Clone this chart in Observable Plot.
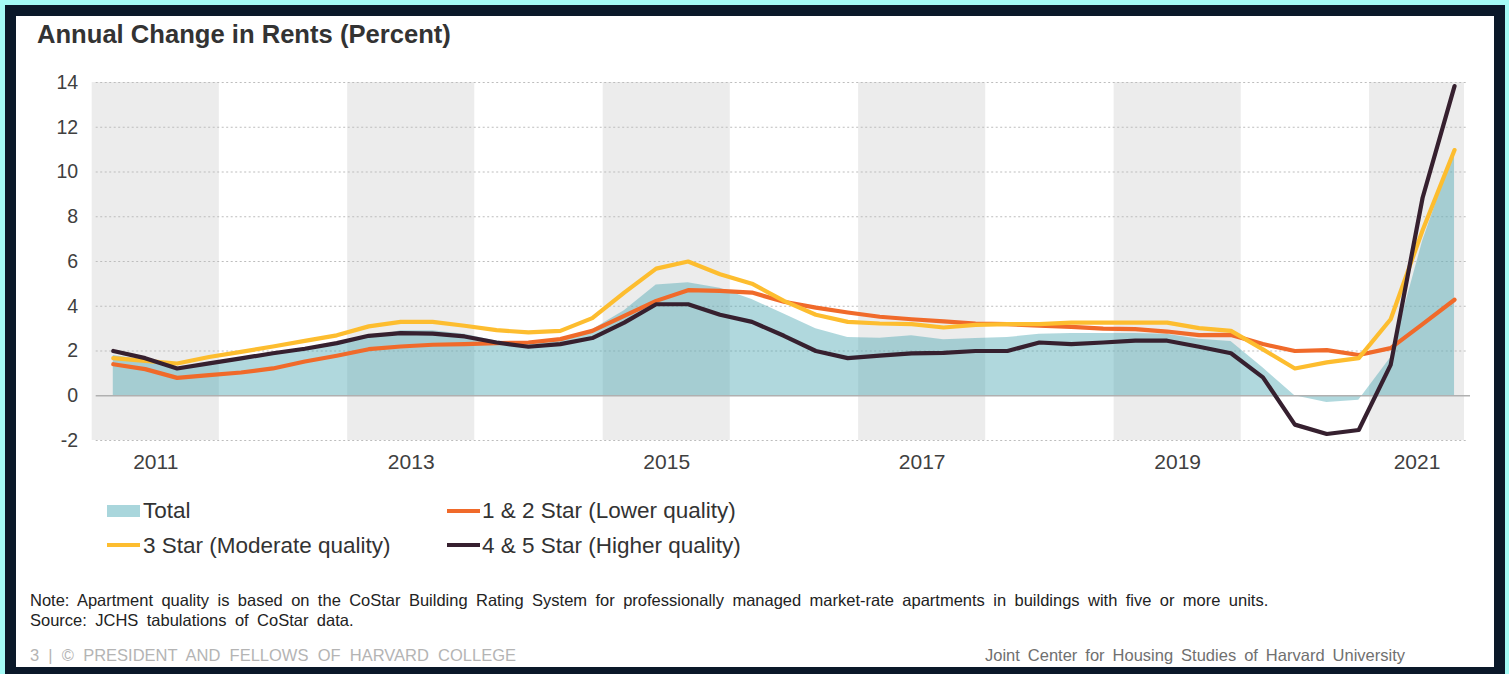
<!DOCTYPE html>
<html><head><meta charset="utf-8">
<script src="https://cdn.jsdelivr.net/npm/d3@7"></script>
<script src="https://cdn.jsdelivr.net/npm/@observablehq/plot@0.6"></script>
<style>
html,body{margin:0;padding:0;}
body{width:1509px;height:674px;background:#a4fbf6;overflow:hidden;position:relative;font-family:"Liberation Sans",Arial,sans-serif;}
#frame{position:absolute;left:5px;top:5px;width:1478px;height:651px;border:11px solid #0a1829;background:#fff;}
.abs{position:absolute;white-space:nowrap;line-height:1;}
.leg{font-size:22.5px;color:#333;}
.sw{position:absolute;}
.ft{font-size:16.5px;}
</style></head><body>
<div id="frame">
  <div class="abs" style="left:21px;top:5.5px;font-size:25.6px;font-weight:bold;color:#333;">Annual Change in Rents (Percent)</div>
  <div id="chart" class="abs" style="left:0;top:44px"></div>
  <div class="sw" style="left:91px;top:489px;width:33px;height:12px;background:#a9d6dc;"></div>
  <div class="abs leg" style="left:127px;top:484px;">Total</div>
  <div class="sw" style="left:431px;top:493px;width:33px;height:4px;background:#f06a2a;"></div>
  <div class="abs leg" style="left:466px;top:484px;">1 &amp; 2 Star (Lower quality)</div>
  <div class="sw" style="left:91px;top:527px;width:33px;height:4px;background:#fdbd2f;"></div>
  <div class="abs leg" style="left:127px;top:519px;">3 Star (Moderate quality)</div>
  <div class="sw" style="left:431px;top:527px;width:33px;height:4px;background:#36202f;"></div>
  <div class="abs leg" style="left:466px;top:519px;">4 &amp; 5 Star (Higher quality)</div>
  <div class="abs ft" style="left:14px;top:575.5px;color:#222;word-spacing:3.8px;">Note: Apartment quality is based on the CoStar Building Rating System for professionally managed market-rate apartments in buildings with five or more units.</div>
  <div class="abs ft" style="left:14px;top:595.5px;color:#222;word-spacing:3.8px;">Source: JCHS tabulations of CoStar data.</div>
  <div class="abs ft" style="left:14px;top:631px;color:#b4b4b4;word-spacing:4.6px;">3 | © PRESIDENT AND FELLOWS OF HARVARD COLLEGE</div>
  <div class="abs ft" style="left:969px;top:631px;color:#707070;word-spacing:3.4px;">Joint Center for Housing Studies of Harvard University</div>
</div>
<script>
// Quarterly periods 2011 Q1 – 2021 Q3
const periods = [];
for (let y = 2011; y <= 2021; y++) for (let q = 1; q <= 4; q++) if (!(y === 2021 && q > 3)) periods.push({year: y, q});

const total = [1.8, 1.6, 1.2, 1.5, 1.7, 1.9, 2.1, 2.35, 2.6, 2.9, 2.9, 2.75, 2.45, 2.35, 2.45, 2.95, 3.8, 4.95, 5.05, 4.8, 4.3, 3.65, 3.0, 2.6, 2.57, 2.68, 2.5, 2.56, 2.6, 2.75, 2.78, 2.78, 2.78, 2.75, 2.53, 2.42, 1.25, 0.0, -0.3, -0.2, 1.7, 6.9, 11.0];
const lowQ = [1.41, 1.19, 0.8, 0.92, 1.04, 1.22, 1.53, 1.79, 2.08, 2.2, 2.28, 2.31, 2.35, 2.38, 2.53, 2.9, 3.57, 4.24, 4.72, 4.69, 4.61, 4.2, 3.94, 3.72, 3.53, 3.42, 3.32, 3.23, 3.2, 3.13, 3.08, 3.0, 2.98, 2.87, 2.71, 2.72, 2.31, 2.0, 2.04, 1.82, 2.13, 3.2, 4.29];
const midQ = [1.68, 1.56, 1.44, 1.73, 1.96, 2.2, 2.45, 2.7, 3.1, 3.3, 3.3, 3.13, 2.93, 2.83, 2.9, 3.47, 4.61, 5.68, 6.0, 5.43, 5.01, 4.24, 3.62, 3.3, 3.23, 3.2, 3.05, 3.17, 3.2, 3.2, 3.27, 3.27, 3.27, 3.27, 3.02, 2.9, 2.07, 1.22, 1.49, 1.68, 3.42, 7.4, 10.98];
const highQ = [2.0, 1.68, 1.22, 1.45, 1.67, 1.9, 2.1, 2.35, 2.68, 2.8, 2.78, 2.65, 2.38, 2.19, 2.31, 2.58, 3.27, 4.09, 4.09, 3.62, 3.3, 2.68, 2.0, 1.68, 1.79, 1.89, 1.92, 2.0, 2.0, 2.38, 2.31, 2.38, 2.46, 2.46, 2.19, 1.9, 0.82, -1.29, -1.71, -1.53, 1.38, 8.85, 13.84];

const bandYears = [2011, 2013, 2015, 2017, 2019, 2021];
const yTicks = [-2, 0, 2, 4, 6, 8, 10, 12, 14];

const rows = periods.map((p, i) => ({
  t: p.year + (p.q - 1) / 4,
  total: total[i], low: lowQ[i], mid: midQ[i], high: highQ[i]
}));

const xDomain = [2011 - 0.165, 2021.5 + 0.078];
const bands = bandYears.map(y => {
  const x1 = y - 0.165, x2 = Math.min(y + 0.83, xDomain[1]);
  return {x1, x2, label: String(y)};
});

const chart = Plot.plot({
  width: 1478, height: 420,
  marginLeft: 75.7, marginRight: 30, marginTop: 22, marginBottom: 40,
  x: {domain: xDomain, axis: null},
  y: {domain: [-2, 14]},
  style: {fontFamily: '"Liberation Sans", Arial, sans-serif', background: "transparent", color: "#404040"},
  marks: [
    Plot.rect(bands, {x1: "x1", x2: "x2", fill: "#ececec"}),
    Plot.ruleY(yTicks.filter(v => v !== 0), {stroke: "#bdbdbd", strokeDasharray: "2,2.5", strokeWidth: 1, insetLeft: 4, insetRight: -4}),
    Plot.areaY(rows, {x: "t", y: "total", fill: "#4fa8b4", fillOpacity: 0.45}),
    Plot.ruleY([0], {stroke: "#b0b0b0", strokeWidth: 1.5, insetLeft: 4, insetRight: -6}),
    Plot.lineY(rows, {x: "t", y: "low", stroke: "#f06a2a", strokeWidth: 4.2}),
    Plot.lineY(rows, {x: "t", y: "mid", stroke: "#fdbd2f", strokeWidth: 4.2}),
    Plot.lineY(rows, {x: "t", y: "high", stroke: "#36202f", strokeWidth: 4.2}),
    Plot.axisY({ticks: yTicks, tickFormat: d => String(d), tickSize: 0, tickPadding: 14, fontSize: 19.5, fill: "#404040", label: null}),
    Plot.text(bands, {x: d => (d.x1 + d.x2) / 2, frameAnchor: "bottom", dy: 28, text: "label", fontSize: 21, fill: "#404040"})
  ]
});
document.getElementById("chart").appendChild(chart);
</script>
</body></html>
